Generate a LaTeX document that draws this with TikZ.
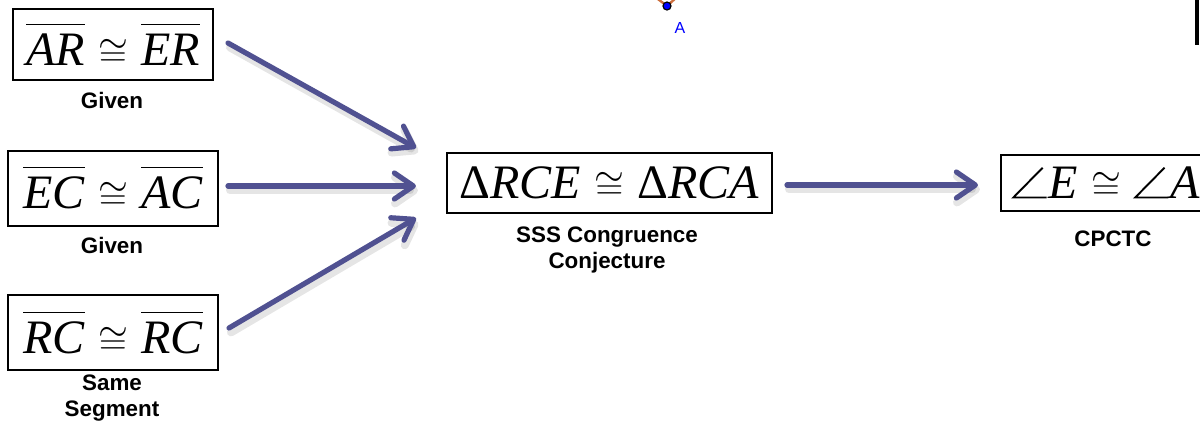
\documentclass[tikz,border=0pt]{standalone}
\usepackage{fix-cm}
\usepackage{fontspec}
\setmainfont{Liberation Serif}
\newfontfamily\labelfont{Liberation Sans}
\usetikzlibrary{arrows.meta,calc}
\definecolor{arrowblue}{RGB}{80,81,145}
\definecolor{ggborange}{RGB}{205,110,60}
\definecolor{ggbblue}{RGB}{0,0,255}
% segment with a bar raised well above it, letters in italic
\newcommand{\seg}[1]{\ensuremath{\overline{\rule{0pt}{0.8em}\mbox{\itshape #1}}}}
% a slimmer congruence sign
\newcommand{\congr}{\mathrel{\scalebox{0.8}{$\cong$}}}
% angle sign as tall as a capital, then an italic letter
\newcommand{\angmark}{\tikz[baseline=0pt]\draw[line width=0.04em, line join=miter, line cap=butt]
  (0.66em,0.64em) -- (0.05em,0.02em) -- (0.74em,0.02em);}
\newcommand{\ang}[1]{\mbox{\angmark\kern0.02em\itshape #1}}

\begin{document}
\begin{tikzpicture}[x=0.5pt,y=-0.5pt,
  stmt/.style={draw=black, line width=1pt, inner sep=0pt,
    font=\fontsize{24}{28}\selectfont},
  reason/.style={font=\labelfont\bfseries\fontsize{11.2}{13}\selectfont,
    align=center, inner sep=0pt},
  flow/.style={arrowblue, line width=2.6pt, line cap=round,
    -{Straight Barb[length=9.5pt,width=13pt,round]}},
  flowshade/.style={black, opacity=0.10, line width=4pt, line cap=round,
    transform canvas={shift={(1pt,-2.2pt)}},
    -{Straight Barb[length=9.5pt,width=13pt,round]}},
]
\clip (0,0) rectangle (1200,425);
\fill[white] (0,0) rectangle (1200,425);

% corner of a window and a labelled point cut off by the top edge
\fill[black] (1195,-5) rectangle (1199,45);
\draw[ggborange, line width=1.2pt] (654,-4) -- (667,6) -- (678,-4);
\filldraw[fill=ggbblue, draw=black, line width=0.6pt] (667,6) circle (4);
\node[text=ggbblue, font=\labelfont\fontsize{8}{9}\selectfont] (lblA) at (680,28) {A};

% statements
\node[stmt, minimum width=100pt, minimum height=35.5pt] (s1) at (113,44.5)
  {$\seg{AR}\congr\seg{ER}$};
\node[stmt, minimum width=105pt, minimum height=37.5pt] (s2) at (113,188)
  {$\seg{EC}\congr\seg{AC}$};
\node[stmt, minimum width=105pt, minimum height=37.5pt] (s3) at (113,332.5)
  {$\seg{RC}\congr\seg{RC}$};
\node[stmt, minimum width=162.5pt, minimum height=30pt] (s4) at (609.5,183)
  {$\mbox{Δ\itshape RCE}\congr\mbox{Δ\itshape RCA}$};
\node[stmt, minimum width=105pt, minimum height=28pt, anchor=west] (s5) at (1000,183)
  {$\ang{E}\congr\ang{A}$};

% reasons
\node[reason] (r1) at (112,100) {Given};
\node[reason] (r2) at (112,245) {Given};
\node[reason] (r3) at (112,398.5) {Same\\Segment};
\node[reason] (r4) at (607,250) {SSS Congruence\\Conjecture};
\node[reason] (r5) at (1113,239) {CPCTC};

% free ends of the connectors
\coordinate (f1) at ($(s1.east)+(14,-1.5)$);
\coordinate (t1) at ($(s4.west)+(-30,-35)$);
\coordinate (f2) at ($(s2.east)+(9,-2)$);
\coordinate (t2) at ($(s4.west)+(-30,3)$);
\coordinate (f3) at ($(s3.east)+(10,-4.5)$);
\coordinate (t3) at ($(s4.west)+(-30,35)$);
\coordinate (f4) at ($(s4.east)+(14,2)$);
\coordinate (t4) at ($(s5.west)+(-22,2)$);

% shading under the connectors
\foreach \a/\b in {f1/t1,f2/t2,f3/t3,f4/t4}
  \draw[flowshade] (\a) -- (\b);
% connectors
\draw[flow] (f1) -- (t1);
\draw[flow] (f2) -- (t2);
\draw[flow] (f3) -- (t3);
\draw[flow] (f4) -- (t4);
\end{tikzpicture}
\end{document}
